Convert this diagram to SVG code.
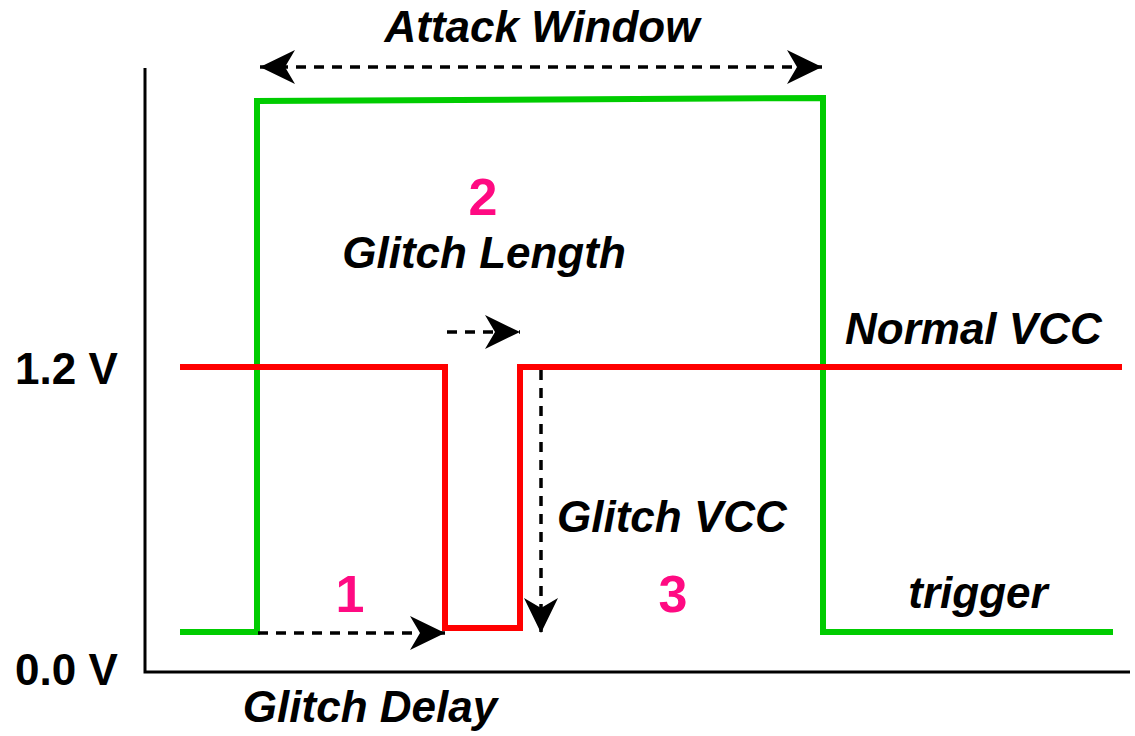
<svg xmlns="http://www.w3.org/2000/svg" width="1135" height="736" viewBox="0 0 1135 736">
<style>
.lbl{font-family:"Liberation Sans",Arial,sans-serif;font-weight:bold;font-style:italic;font-size:44px;fill:#000}
.ax{font-family:"Liberation Sans",Arial,sans-serif;font-weight:bold;font-size:44px;fill:#000}
.num{font-family:"Liberation Sans",Arial,sans-serif;font-weight:bold;font-size:52px;fill:#ff0a82;text-anchor:middle}
.dash{fill:none;stroke:#000;stroke-width:3.5;stroke-dasharray:10 8}
.sig{fill:none;stroke-width:6;stroke-linejoin:miter}
</style>
<defs>
<marker id="ah" markerUnits="userSpaceOnUse" markerWidth="36" markerHeight="36" refX="35" refY="17" orient="auto-start-reverse" viewBox="0 0 36 34">
<path d="M0,0 L35,17 L0,34 L10,17 Z" fill="#000"/>
</marker>
</defs>
<g id="axes">
<path d="M145,68 L145,672 L1130,672" fill="none" stroke="#000" stroke-width="3"/>
</g>
<g id="trigger-signal">
<path class="sig" stroke="#00cc00" d="M180,632 L257,632 L257,101 L823,98 L823,632 L1113,632"/>
</g>
<g id="vcc-signal">
<path class="sig" stroke="#ff0000" d="M180,367 L445,367 L445,628 L520,628 L520,367 L1122,367"/>
</g>
<g id="connectors">
<path class="dash" d="M260,67 L822,67" marker-start="url(#ah)" marker-end="url(#ah)"/>
<path class="dash" d="M447,332 L520,332" marker-end="url(#ah)"/>
<path class="dash" d="M541,370 L541,633" marker-end="url(#ah)"/>
<path class="dash" d="M258,633 L445,633" marker-end="url(#ah)"/>
</g>
<g id="labels">
<text class="lbl" x="542" y="42" text-anchor="middle">Attack Window</text>
<text class="num" x="483" y="215">2</text>
<text class="lbl" x="484" y="268" text-anchor="middle">Glitch Length</text>
<text class="lbl" x="845" y="344">Normal VCC</text>
<text class="ax" x="15" y="384">1.2 V</text>
<text class="lbl" x="557" y="532">Glitch VCC</text>
<text class="num" x="350" y="612">1</text>
<text class="num" x="673" y="612">3</text>
<text class="lbl" x="978" y="608" text-anchor="middle">trigger</text>
<text class="ax" x="15" y="685">0.0 V</text>
<text class="lbl" x="370" y="722" text-anchor="middle">Glitch Delay</text>
</g>
</svg>
